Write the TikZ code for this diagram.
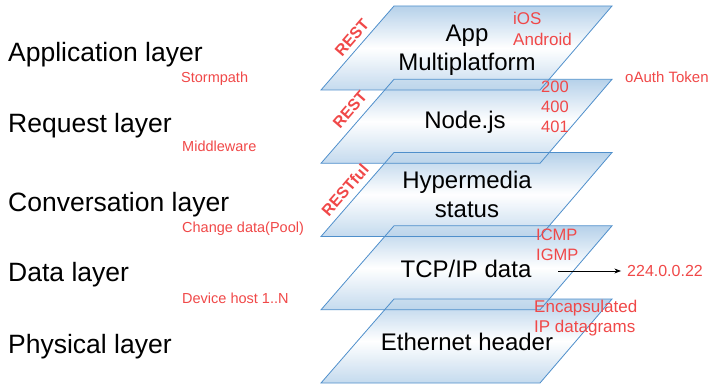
\documentclass[tikz,border=0pt]{standalone}
\usepackage{fontspec}
\setmainfont{Liberation Sans}
\usetikzlibrary{positioning,arrows.meta}
\definecolor{edg}{HTML}{4F8FCB}
\definecolor{pln}{HTML}{A9C9E6}
\definecolor{rd}{HTML}{F04848}

\begin{document}
\begin{tikzpicture}[x=1pt,y=-1pt,>=Stealth,
  layer/.style={anchor=west,inner sep=0pt,font=\fontsize{26.5}{30}\selectfont},
  note/.style={anchor=west,inner sep=0pt,text=rd,font=\fontsize{14.5}{17}\selectfont},
  tag/.style={anchor=west,inner sep=0pt,text=rd,align=left,font=\fontsize{17}{20.5}\selectfont},
  ptext/.style={align=center,inner sep=0pt,font=\fontsize{24}{29}\selectfont},
  rest/.style={rotate=49,inner sep=0pt,text=rd,font=\bfseries\fontsize{16}{18}\selectfont}]
  \useasboundingbox (0,0) rectangle (711,387);
  % planes: fills bottom first, edges on top
  \foreach \t in {299,225.8,152.5,79.3,6}
    \shade[top color=pln,bottom color=pln!80,middle color=white,fill opacity=0.85]
      (394,\t) -- (612,\t) -- (540,\t+84) -- (321,\t+84) -- cycle;
  \foreach \t in {299,225.8,152.5,79.3,6}
    \draw[edg,line width=0.8pt] (394,\t) -- (612,\t) -- (540,\t+84) -- (321,\t+84) -- cycle;

  % layer names
  \node[layer] (app) at (8,55) {Application layer};
  \node[layer] (req) at (8,126) {Request layer};
  \node[layer] (conv) at (8,205) {Conversation layer};
  \node[layer] (dat) at (8,275) {Data layer};
  \node[layer] (phy) at (8,347) {Physical layer};
  \node[note] (storm) at (181,79) {Stormpath};
  \node[note] (mid) at (182,146) {Middleware};
  \node[note] (chg) at (182,229) {Change data(Pool)};
  \node[note] (dev) at (182,298) {Device host 1..N};

  % plane texts
  \node[ptext] (appt) at (467,50) {App\\Multiplatform};
  \node[ptext] (nodejs) at (465,122) {Node.js};
  \node[ptext] (hyp) at (467,194) {Hypermedia\\status};
  \node[ptext] (tcp) at (466,269) {TCP/IP data};
  \node[ptext] (eth) at (467,342) {Ethernet header};

  \node[tag] (os) at (513,29) {iOS\\Android};
  \node[tag,font=\fontsize{16.5}{20}\selectfont] (codes) at (541,107) {200\\400\\401};
  \node[tag,font=\fontsize{16.5}{20}\selectfont] (icmp) at (536,245) {ICMP\\IGMP};
  \node[tag] (encap) at (534,318) {Encapsulated\\IP datagrams};
  \node[note,font=\fontsize{15}{17}\selectfont] (oauth) at (625,77) {oAuth Token};
  \node[tag,font=\fontsize{16}{19}\selectfont] (mcast) at (627,271) {224.0.0.22};
  \coordinate (src) at (558,271);
  \draw[->,line width=0.8pt] (src) -- ([xshift=-6pt]mcast.west);

  \node[rest] (r1) at (352,38) {REST};
  \node[rest] (r2) at (350,110) {REST};
  \node[rest] (r3) at (345,190) {RESTful};
\end{tikzpicture}
\end{document}
